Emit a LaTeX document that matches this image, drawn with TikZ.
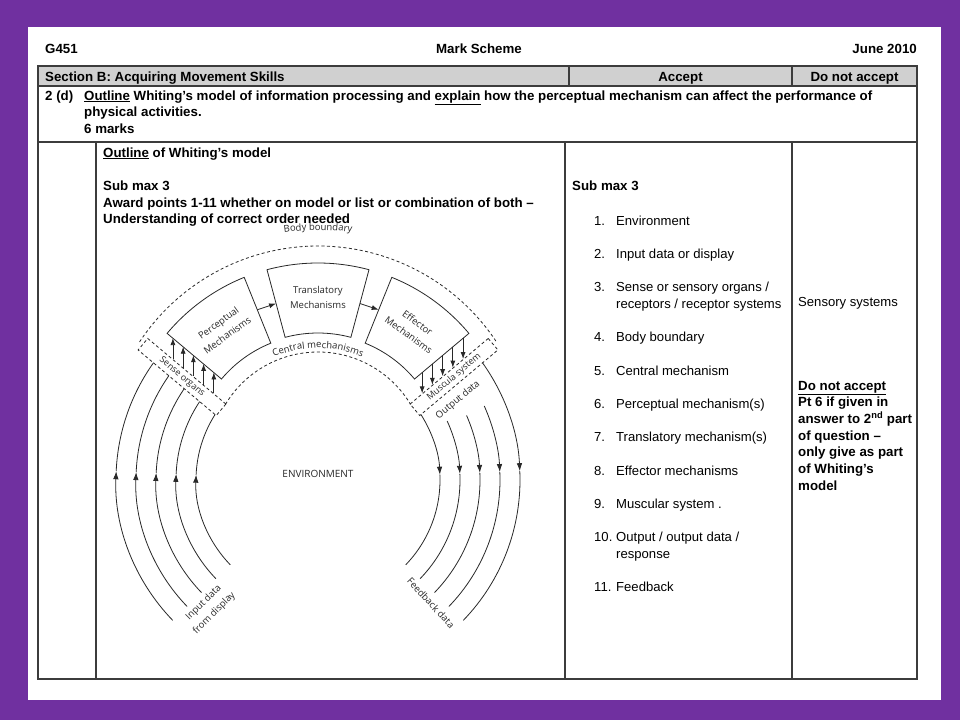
\documentclass[tikz,border=0pt]{standalone}
\usepackage{fontspec}
\setmainfont{Liberation Sans}
\newfontfamily\diagfont{Open Sans}
\usetikzlibrary{arrows.meta,calc,decorations.text}

\definecolor{slidepurple}{RGB}{112,48,160}
\definecolor{headgray}{RGB}{208,208,208}
\definecolor{rulegray}{RGB}{60,60,60}
\definecolor{inkgray}{RGB}{40,40,40}

\tikzset{
  txt/.style={anchor=base west, inner sep=0pt, font=\fontsize{13.1}{16}\selectfont},
  bold/.style={txt, font=\fontsize{13.3}{16}\selectfont\bfseries},
  rule/.style={draw=rulegray, line width=1.4pt},
  ink/.style={draw=inkgray, line width=0.8pt},
  dashink/.style={ink, dash pattern=on 3pt off 2.5pt},
  arr/.style={-{Latex[length=7pt,width=5pt]}},
  bigarr/.style={-{Latex[length=8pt,width=5.5pt]}},
  diag/.style={inner sep=0pt, align=center, text=inkgray, font=\diagfont\fontsize{9.5}{15}\selectfont},
  organ/.style={diag, dashink, minimum width=102pt, minimum height=15pt, font=\diagfont\fontsize{9}{11}\selectfont}
}

\begin{document}
\begin{tikzpicture}[x=1pt, y=-1pt]
\useasboundingbox (0,0) rectangle (960,720);
\fill[slidepurple] (0,0) rectangle (960,720);
\fill[white] (28,27) rectangle (941,700);

% page header
\node[bold] (code) at (45,53) {G451};
\node[bold, anchor=base] (title) at (479,53) {Mark Scheme};
\node[bold, anchor=base east] (date) at (917,53) {June 2010};

% table frame
\fill[headgray] (38,66) rectangle (917,86);
\draw[rule] (38,66) rectangle (917,679);
\draw[rule] (38,86) -- (917,86);
\draw[rule] (38,142) -- (917,142);
\draw[rule] (569,66) -- (569,86);
\draw[rule] (792,66) -- (792,86);
\draw[rule] (96,142) -- (96,679);
\draw[rule] (565,142) -- (565,679);
\draw[rule] (792,142) -- (792,679);

\node[bold] (section) at (45,81) {Section B: Acquiring Movement Skills};
\node[bold, anchor=base] (accept) at (680.5,81) {Accept};
\node[bold, anchor=base] (reject) at (854.5,81) {Do not accept};

\node[bold] (qnum) at (45,100) {2 (d)};
\node[bold] (qline1) at (84,100) {\underline{Outline} Whiting’s model of information processing and \underline{explain} how the perceptual mechanism can affect the performance of};
\node[bold] (qline2) at (84,116.5) {physical activities.};
\node[bold] (qline3) at (84,133) {6 marks};

% left answer column
\node[bold] (outline) at (103,157) {\underline{Outline} of Whiting’s model};
\node[bold] (submax) at (103,190.3) {Sub max 3};
\node[bold] (award) at (103,207) {Award points 1-11 whether on model or list or combination of both –};
\node[bold] (order) at (103,223.7) {Understanding of correct order needed};

% accept column
\node[bold] (acceptmax) at (572,190.3) {Sub max 3};
\foreach \n/\y/\t in {1/225/Environment, 2/258.3/Input data or display,
    3/291.7/{Sense or sensory organs /}, 4/341.7/Body boundary,
    5/375/Central mechanism, 6/408.3/Perceptual mechanism(s),
    7/441.7/Translatory mechanism(s), 8/475/Effector mechanisms,
    9/508.3/Muscular system ., 10/541.7/{Output / output data /},
    11/591.7/Feedback} {
  \node[txt] (num\n) at (594,\y) {\n.};
  \node[txt] (item\n) at (616,\y) {\t};
}
\node[txt] (item3b) at (616,308.3) {receptors / receptor systems};
\node[txt] (item10b) at (616,558.3) {response};

% do not accept column
\node[txt] (sensory) at (798,306) {Sensory systems};
\node[bold] (dna) at (798,390) {\underline{Do not accept}};
\node[bold] (dna1) at (798,406.7) {Pt 6 if given in};
\node[bold] (dna2) at (798,423.3) {answer to 2\textsuperscript{nd} part};
\node[bold] (dna3) at (798,440) {of question –};
\node[bold] (dna4) at (798,456.7) {only give as part};
\node[bold] (dna5) at (798,473.3) {of Whiting’s};
\node[bold] (dna6) at (798,490) {model};

% Whiting's model: the arch
\begin{scope}[shift={(318,460)}, y={(0pt,1pt)}]
  \draw[dashink] (146.5:214) arc[start angle=146.5, end angle=33.5, radius=214];
  \draw[dashink] (149:108) arc[start angle=149, end angle=31, radius=108];
  \draw[ink] (112:126) arc[start angle=112, end angle=140, radius=126] -- (140:197)
    arc[start angle=140, end angle=112, radius=197] -- cycle;
  \draw[ink] (75:127) arc[start angle=75, end angle=105, radius=127] -- (105:197)
    arc[start angle=105, end angle=75, radius=197] -- cycle;
  \draw[ink] (40:126) arc[start angle=40, end angle=68, radius=126] -- (68:197)
    arc[start angle=68, end angle=40, radius=197] -- cycle;
  \node[diag, rotate=36] (percep) at (126:162) {Perceptual\\Mechanisms};
  \node[diag] (transl) at (90:163) {Translatory\\Mechanisms};
  \node[diag, rotate=-36] (effect) at (54:162) {Effector\\Mechanisms};
  \node[organ, rotate=-40] (sense) at (-136,83) {Sense organs};
  \node[organ, rotate=40] (muscle) at (136,83) {Muscula system};
  \node[diag, rotate=40] (outdata) at (140,60) {Output data};
  \coordinate (percep-e) at (112:162);
  \coordinate (transl-w) at (105:162);
  \coordinate (transl-e) at (75:162);
  \coordinate (effect-w) at (68:162);
  \draw[ink, arr] (percep-e) -- (transl-w);
  \draw[ink, arr] (transl-e) -- (effect-w);
  \foreach \t in {0.32,0.45,0.58,0.71,0.84} {
    \coordinate (s) at ($(sense.north west)!\t!(sense.north east)$);
    \coordinate (m) at ($(muscle.north east)!\t!(muscle.north west)$);
    \draw[ink, arr] (s) -- ++(0,21);
    \draw[ink, arr] ($(m)+(0,21)$) -- (m);
  }
  \path[decorate, decoration={text along path, text align=center, text color=inkgray,
    text={|\diagfont\fontsize{9.5}{11}\selectfont|Central mechanisms}}]
    (130:112) arc[start angle=130, end angle=50, radius=112];
  \path[decorate, decoration={text along path, text align=center, text color=inkgray,
    text={|\diagfont\fontsize{9.5}{11}\selectfont|Body boundary}}]
    (106:230) arc[start angle=106, end angle=74, radius=230];
\end{scope}

% input and feedback data
\begin{scope}[shift={(318,480)}, y={(0pt,1pt)}]
  \foreach \r/\a in {122/147.5, 142/146.5, 162/145.7, 182/145, 202/144.5} {
    \draw[ink, bigarr] (224:\r) arc[start angle=224, end angle=177.5, radius=\r];
    \draw[ink] (177.5:\r) arc[start angle=177.5, end angle=\a, radius=\r];
  }
  \foreach \r/\a in {122/32.5, 142/24.5, 162/23.5, 182/24, 202/35.5} {
    \draw[ink, bigarr] (\a:\r) arc[start angle=\a, end angle=2.5, radius=\r];
    \draw[ink] (2.5:\r) arc[start angle=2.5, end angle=-44, radius=\r];
  }
\end{scope}
\node[diag, font=\diagfont\fontsize{10}{12}\selectfont] (env) at (318,474) {ENVIRONMENT};
\node[diag, rotate=45] (input) at (209,608) {Input data\\from display};
\node[diag, rotate=-47] (feedback) at (431,603) {Feedback data};
\end{tikzpicture}
\end{document}
